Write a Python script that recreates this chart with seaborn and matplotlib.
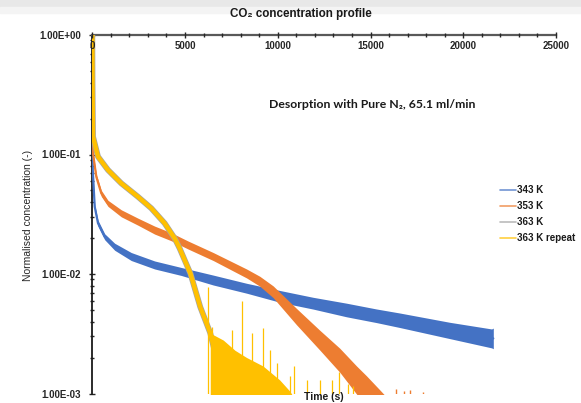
import numpy as np
import matplotlib
matplotlib.use("Agg")
import matplotlib.pyplot as plt
import seaborn as sns
from matplotlib.ticker import FixedLocator, MultipleLocator, LogLocator, FuncFormatter, NullFormatter
from matplotlib.patches import Rectangle
from matplotlib.lines import Line2D

# ---------------- data ----------------
series_names = ["343 K", "353 K", "363 K", "363 K repeat"]
colors = ["#4472C4", "#ED7D31", "#A5A5A5", "#FFC000"]

# 343 K : centre of the noisy trace and multiplicative noise spread
t_343 = [0, 10, 25, 130, 307, 668, 1207, 2101, 3362, 4796, 6520, 8320, 10110, 11900, 13700, 15320, 16580, 19270, 21530, 21620]
c_343 = [1.0, 0.2, 0.074, 0.0366, 0.0266, 0.0205, 0.0169, 0.0140, 0.0119, 0.0105, 0.0089, 0.0076, 0.0065, 0.0057, 0.0050, 0.00447, 0.0041, 0.00337, 0.00289, 0.00289]
s_343 = [1.0, 1.0, 1.02, 1.039, 1.059, 1.059, 1.07, 1.08, 1.08, 1.08, 1.10, 1.10, 1.12, 1.12, 1.14, 1.14, 1.15, 1.17, 1.20, 1.22]

# 353 K : centre of the noisy trace and multiplicative noise spread
t_353 = [0, 15, 38, 216, 485, 846, 1563, 2462, 3362, 4256, 5157, 6520, 8320, 9030, 9750, 11010, 12260, 13340, 14240, 14780, 15500, 16250]
c_353 = [1.0, 0.3, 0.102, 0.0652, 0.0473, 0.039, 0.0322, 0.0274, 0.0233, 0.0205, 0.0175, 0.0140, 0.0101, 0.0087, 0.0071, 0.0044, 0.0028, 0.0019, 0.0013, 0.00105, 0.0008, 0.0006]
s_353 = [1.0, 1.0, 1.03, 1.05, 1.06, 1.06, 1.07, 1.07, 1.08, 1.08, 1.08, 1.08, 1.09, 1.10, 1.12, 1.17, 1.21, 1.26, 1.31, 1.34, 1.34, 1.34]
t_353_spk = [16360, 16790, 17110, 17810]
v_353_spk = [0.00110, 0.00105, 0.00106, 0.00103]

# 363 K and 363 K repeat : main decay (nearly identical)
t_363 = [0, 10, 38, 307, 846, 1563, 2462, 3179, 3900, 4440, 4709, 4978, 5290, 5820, 6360, 6720, 7080, 7300]
v_363 = [1.0, 0.4, 0.141, 0.096, 0.0742, 0.0574, 0.0443, 0.0355, 0.0266, 0.0199, 0.0164, 0.0131, 0.0101, 0.0053, 0.0032, 0.0019, 0.00114, 0.0008]
# 363 K repeat : noisy tail envelope and spikes
t_363_tail = [6360, 7060, 7690, 8320, 9200, 10100, 10640, 10910]
v_363_tail = [0.0032, 0.0028, 0.0023, 0.0020, 0.0017, 0.0013, 0.00105, 0.0009]
t_363_spk = [6250, 6450, 7530, 8050, 8590, 9210, 9575, 9935, 10640, 10860, 11550, 12260, 12900, 13290, 13780, 14040]
v_363_spk = [0.0078, 0.0036, 0.0034, 0.0060, 0.0032, 0.0035, 0.0023, 0.0018, 0.0014, 0.0017, 0.0013, 0.0013, 0.0013, 0.0015, 0.0012, 0.00115]

x_ticks = [0, 5000, 10000, 15000, 20000, 25000]
y_ticks = [1e-3, 1e-2, 1e-1, 1e0]
y_ticklabels = ["1.00E-03", "1.00E-02", "1.00E-01", "1.00E+00"]

# ---------------- style ----------------
sns.set_theme(style="white")
plt.rcParams["font.family"] = ["Liberation Sans", "DejaVu Sans"]

W, H = 581, 403
fig = plt.figure(figsize=(W / 100, H / 100), dpi=100)
fig.patch.set_facecolor("white")
fig.patches.append(Rectangle((0, 1 - 7 / H), 1, 7 / H, transform=fig.transFigure, color="#e8e8e8", zorder=0))
fig.patches.append(Rectangle((0, 1 - 13 / H), 1, 6 / H, transform=fig.transFigure, color="#f4f4f4", zorder=0))

ax = fig.add_axes([92.3 / W, (H - 393.5) / H, (556 - 92.3) / W, (393.5 - 35) / H])
ax.set_facecolor("none")
ax.set_yscale("log")


def band(t, c, s, color, z):
    c = np.asarray(c)
    s = np.asarray(s)
    ax.fill_between(t, c / s, c * s, color=color, lw=0, zorder=z)
    sns.lineplot(x=t, y=c, ax=ax, color=color, lw=1.6, sort=False, estimator=None, zorder=z)


band(t_343, c_343, s_343, colors[0], 3)
band(t_353, c_353, s_353, colors[1], 4)
ax.vlines(t_353_spk, 1e-4, v_353_spk, color=colors[1], lw=1.0, zorder=4)

# 363 K (grey) under 363 K repeat (yellow)
sns.lineplot(x=t_363, y=v_363, ax=ax, color=colors[2], lw=4.2, sort=False, estimator=None, zorder=5)
ax.fill_between(t_363_tail, 1e-4, v_363_tail, color=colors[3], lw=0, zorder=5)
ax.vlines(t_363_spk, 1e-4, v_363_spk, color=colors[3], lw=0.9, zorder=5)
sns.lineplot(x=t_363, y=v_363, ax=ax, color=colors[3], lw=3.2, sort=False, estimator=None, zorder=6)

ax.set_xlim(0, 25000)
ax.set_ylim(1e-3, 1)
ax.set_xlabel("")
ax.set_ylabel("")

for side in ["right", "bottom"]:
    ax.spines[side].set_visible(False)
ax.spines["top"].set_color("#595959")
ax.spines["top"].set_linewidth(1.6)
ax.spines["left"].set_color("#1a1a1a")
ax.spines["left"].set_linewidth(1.3)

ax.xaxis.set_major_locator(FixedLocator(x_ticks))
ax.xaxis.set_minor_locator(MultipleLocator(1000))
ax.xaxis.set_major_formatter(FuncFormatter(lambda v, p: f"{int(v)}"))
ax.tick_params(axis="x", which="both", top=True, bottom=False, labeltop=True, labelbottom=False,
               direction="inout", colors="#262626", labelsize=7, pad=-13.5)
ax.tick_params(axis="x", which="major", length=4, width=1)
ax.tick_params(axis="x", which="minor", length=3, width=1)
for lab in ax.get_xticklabels():
    lab.set_fontweight("bold")
ax.xaxis.set_zorder(10)

ax.yaxis.set_major_locator(FixedLocator(y_ticks))
ax.yaxis.set_major_formatter(FuncFormatter(
    lambda v, p: y_ticklabels[int(np.argmin([abs(np.log10(q) - np.log10(v)) for q in y_ticks]))]))
ax.yaxis.set_minor_locator(LogLocator(base=10, subs=np.arange(2, 10) * 1.0))
ax.yaxis.set_minor_formatter(NullFormatter())
ax.tick_params(axis="y", which="both", left=True, direction="inout", colors="#262626", labelsize=7, pad=6)
ax.tick_params(axis="y", which="major", length=4, width=1)
ax.tick_params(axis="y", which="minor", length=3, width=1)
for lab in ax.get_yticklabels():
    lab.set_fontweight("bold")

# texts
fig.text(301 / W, 1 - 14 / H, "CO\u2082 concentration profile", ha="center", va="center",
         fontsize=8.4, fontweight="bold", color="#1a1a1a", family=["Liberation Sans", "DejaVu Sans"])
fig.text(372.5 / W, 1 - 104 / H, "Desorption with Pure N\u2082, 65.1 ml/min", ha="center", va="center",
         fontsize=8.8, fontweight="bold", color="#1a1a1a", family=["Lato", "DejaVu Sans"])
fig.text(28 / W, 1 - 215 / H, "Normalised concentration (-)", rotation=90, ha="center", va="center",
         fontsize=7.5, color="#262626")
fig.text(324 / W, 1 - 397.5 / H, "Time (s)", ha="center", va="center", fontsize=7.5,
         fontweight="bold", color="#1a1a1a")

handles = [Line2D([0], [0], color=c, lw=1.2, alpha=0.75) for c in colors]
leg = fig.legend(handles, series_names, loc="upper left", bbox_to_anchor=(500 / W, 1 - 185 / H),
                 frameon=False, fontsize=7, handlelength=1.6, handletextpad=0.1, labelspacing=0.62,
                 borderaxespad=0, borderpad=0)
for t in leg.get_texts():
    t.set_fontweight("bold")
    t.set_color("#1a1a1a")

fig.savefig("out.png", dpi=100)
